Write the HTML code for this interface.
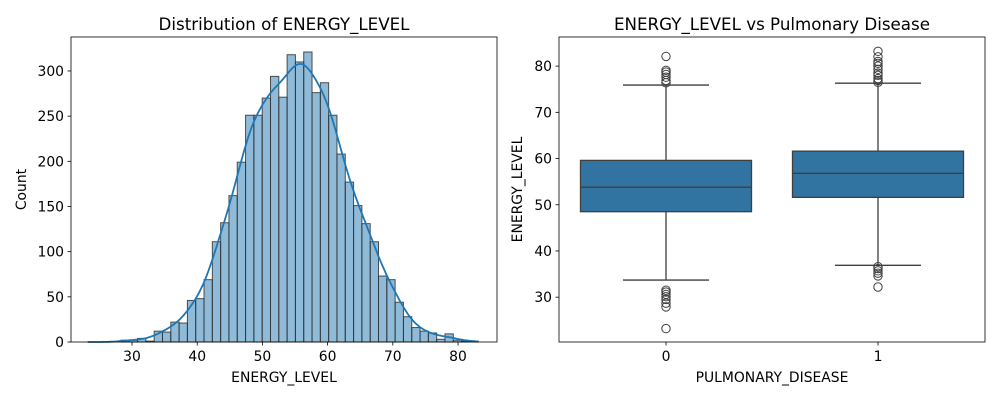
<!DOCTYPE html>
<html><head><meta charset="utf-8"><style>
body{margin:0;background:#fff;font-family:"Liberation Sans","DejaVu Sans",sans-serif;}
svg text{font-family:"DejaVu Sans","Liberation Sans",sans-serif;fill:#000;}
</style></head><body>
<svg id="fig" width="1000" height="400" viewBox="0 0 1000 400" xmlns="http://www.w3.org/2000/svg">
<rect width="1000" height="400" fill="#fff"/>
<g id="hist"></g>
<g id="box"></g>
</svg>
<script>
// ---- histogram data ----
const histMin = 23.2;
const histMax = 83.1;
const histCounts = [0,0,0,0,2,2,4,1,12,11,22,21,46,48,69,111,132,162,199,251,251,270,294,271,318,310,321,276,287,251,208,177,151,131,111,73,69,44,28,16,12,10,3,9,2,1,1];
const histXTicks = [30,40,50,60,70,80];
const histYTicks = [0,50,100,150,200,250,300];
// ---- boxplot data ----
const boxCats = ["0","1"];
const boxQ1 = [48.5,51.6];
const boxMed = [53.8,56.8];
const boxQ3 = [59.6,61.6];
const boxWLo = [33.7,36.9];
const boxWHi = [75.9,76.3];
const boxOutHi = [[82.1,79.1,78.7,78.2,77.6,76.9,76.4],[83.2,82,81,80.6,80,79.3,78.5,78,77.3,76.9,76.5]];
const boxOutLo = [[31.5,31.1,30.6,30.1,29.5,28.7,27.9,23.2],[36.6,36.2,35.7,35.2,34.6,32.2]];
const boxYTicks = [30,40,50,60,70,80];

const NS="http://www.w3.org/2000/svg";
const FT=16.7, FL=13.9;
function mk(p,t,a,txt){const e=document.createElementNS(NS,t);for(const k in a)e.setAttribute(k,a[k]);if(txt!==undefined)e.textContent=txt;p.appendChild(e);return e;}

// ---- histogram ----
(function(){
const g=document.getElementById('hist');
const L=71,R=497,T=37,B=342;
const x0=20.64,x1=85.98,y0=0,y1=337.6;
const sx=v=>L+(v-x0)/(x1-x0)*(R-L);
const sy=v=>B-(v-y0)/(y1-y0)*(B-T);
const w=(histMax-histMin)/histCounts.length;
histCounts.forEach((c,i)=>{
  const a=histMin+i*w;
  const r=mk(g,'rect',{x:sx(a),y:sy(c),width:sx(a+w)-sx(a),height:B-sy(c),fill:'rgba(31,119,180,0.5)',stroke:'#333','stroke-width':1,'stroke-opacity':0.85});
  
  
});
let n=0,m=0;histCounts.forEach((c,i)=>{const ctr=histMin+(i+0.5)*w;n+=c;m+=c*ctr;});m/=n;
let v=0;histCounts.forEach((c,i)=>{const ctr=histMin+(i+0.5)*w;v+=c*(ctr-m)**2;});const sd=Math.sqrt(v/n);
const h=1.06*sd*Math.pow(n,-0.2);
let pts=[];
for(let k=0;k<=200;k++){const xv=histMin+(histMax-histMin)*k/200;let d=0;
  histCounts.forEach((c,i)=>{const ctr=histMin+(i+0.5)*w;d+=c*Math.exp(-0.5*((xv-ctr)/h)**2);});
  d=d/(h*Math.sqrt(2*Math.PI))*w;pts.push(sx(xv).toFixed(1)+','+sy(d).toFixed(1));}
const kde=mk(g,'polyline',{points:pts.join(' '),fill:'none',stroke:'#1f77b4','stroke-width':1.8});


mk(g,'rect',{x:L,y:T,width:R-L,height:B-T,fill:'none',stroke:'#000','stroke-width':0.8});
histXTicks.forEach(t=>{mk(g,'line',{x1:sx(t),x2:sx(t),y1:B,y2:B+3.5,stroke:'#000','stroke-width':0.8});
  const e=mk(g,'text',{x:sx(t),y:B+19,'text-anchor':'middle','font-size':FL},t);
  });
histYTicks.forEach(t=>{mk(g,'line',{x1:L-3.5,x2:L,y1:sy(t),y2:sy(t),stroke:'#000','stroke-width':0.8});
  const e=mk(g,'text',{x:L-7,y:sy(t)+5,'text-anchor':'end','font-size':FL},t);
  });
let e=mk(g,'text',{x:(L+R)/2,y:T-7,'text-anchor':'middle','font-size':FT},'Distribution of ENERGY_LEVEL');

e=mk(g,'text',{x:(L+R)/2,y:382,'text-anchor':'middle','font-size':FL},'ENERGY_LEVEL');

e=mk(g,'text',{x:26,y:(T+B)/2,'text-anchor':'middle','font-size':FL,transform:`rotate(-90 26 ${(T+B)/2})`},'Count');

})();

// ---- boxplot ----
(function(){
const g=document.getElementById('box');
const L=559,R=985,T=37,B=342;
const y0=20.3,y1=86.3;
const sy=v=>B-(v-y0)/(y1-y0)*(B-T);
const sx=i=>666+i*212;
const bw=171, cw=86;
boxCats.forEach((c,i)=>{
  const cx=sx(i);
  let l=mk(g,'line',{x1:cx,x2:cx,y1:sy(boxQ3[i]),y2:sy(boxWHi[i]),stroke:'#3f3f3f','stroke-width':1.3});
  
  l=mk(g,'line',{x1:cx,x2:cx,y1:sy(boxQ1[i]),y2:sy(boxWLo[i]),stroke:'#3f3f3f','stroke-width':1.3});
  
  [boxWHi[i],boxWLo[i]].forEach(v=>{const cap=mk(g,'line',{x1:cx-cw/2,x2:cx+cw/2,y1:sy(v),y2:sy(v),stroke:'#3f3f3f','stroke-width':1.3});
    });
  const r=mk(g,'rect',{x:cx-bw/2,y:sy(boxQ3[i]),width:bw,height:sy(boxQ1[i])-sy(boxQ3[i]),fill:'#3274a1',stroke:'#3f3f3f','stroke-width':1.3});
  
  const md=mk(g,'line',{x1:cx-bw/2,x2:cx+bw/2,y1:sy(boxMed[i]),y2:sy(boxMed[i]),stroke:'#3f3f3f','stroke-width':1.3});
  
  boxOutHi[i].concat(boxOutLo[i]).forEach(v=>{const o=mk(g,'circle',{cx:cx,cy:sy(v),r:4.2,fill:'none',stroke:'#3f3f3f','stroke-width':1});
    });
  mk(g,'line',{x1:cx,x2:cx,y1:B,y2:B+3.5,stroke:'#000','stroke-width':0.8});
  const t=mk(g,'text',{x:cx,y:B+19,'text-anchor':'middle','font-size':FL},c);
  
});
mk(g,'rect',{x:L,y:T,width:R-L,height:B-T,fill:'none',stroke:'#000','stroke-width':0.8});
boxYTicks.forEach(t=>{mk(g,'line',{x1:L-3.5,x2:L,y1:sy(t),y2:sy(t),stroke:'#000','stroke-width':0.8});
  const e=mk(g,'text',{x:L-7,y:sy(t)+5,'text-anchor':'end','font-size':FL},t);
  });
let e=mk(g,'text',{x:(L+R)/2,y:T-7,'text-anchor':'middle','font-size':FT},'ENERGY_LEVEL vs Pulmonary Disease');

e=mk(g,'text',{x:(L+R)/2,y:382,'text-anchor':'middle','font-size':FL},'PULMONARY_DISEASE');

e=mk(g,'text',{x:522,y:(T+B)/2,'text-anchor':'middle','font-size':FL,transform:`rotate(-90 522 ${(T+B)/2})`},'ENERGY_LEVEL');

})();
</script>
</body></html>
